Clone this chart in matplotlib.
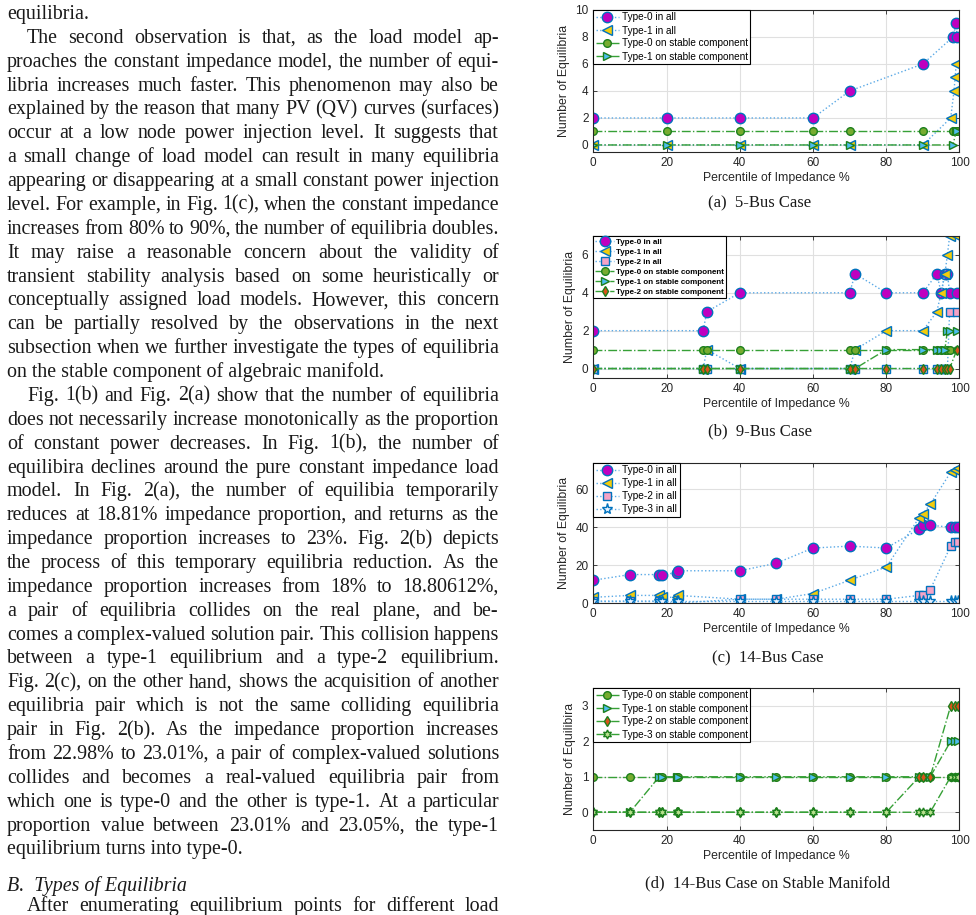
import numpy as np
import matplotlib
matplotlib.use('Agg')
import matplotlib.pyplot as plt

matplotlib.rcParams.update({'font.family': 'Liberation Sans'})

W, H = 976, 915

# ---- data ----
# (a) 5-bus case
x_a0 = [0, 20, 40, 60, 70, 90, 98.2, 99.1, 99.3]
a_t0_all = [2, 2, 2, 2, 4, 6, 8, 9, 8]
x_a1 = [0, 20, 40, 60, 70, 90, 97.6, 98.5, 98.8, 99.1]
a_t1_all = [0, 0, 0, 0, 0, 0, 2, 4, 5, 6]
a_t0_stab = [1, 1, 1, 1, 1, 1, 1, 1, 1]
a_t1_stab = [0, 0, 0, 0, 0, 0, 0, 1, 1]

# (b) 9-bus case
x_b = [0, 30, 31, 40, 70, 71.5, 80, 90, 93.8, 95, 96, 96.7, 97.3, 99.3]
b_t0_all = [2, 2, 3, 4, 4, 5, 4, 4, 5, 4, 5, 5, 4, 4]
b_t1_all = [0, 0, 1, 0, 0, 1, 2, 2, 3, 4, 5, 6, 7, 7]
b_t2_all = [0, 0, 0, 0, 0, 0, 0, 0, 0, 0, 0, 0, 3, 3]
b_t0_stab = [1, 1, 1, 1, 1, 1, 1, 1, 1, 1, 1, 1, 1, 1]
b_t1_stab = [0, 0, 0, 0, 0, 0, 1, 1, 1, 1, 1, 2, 2, 2]
b_t2_stab = [0, 0, 0, 0, 0, 0, 0, 0, 0, 0, 0, 0, 0, 1]

# (c)/(d) 14-bus case
x_c = [0, 10, 18, 18.81, 22.98, 23.01, 40, 50, 60, 70, 80, 89, 90, 92, 97.6, 98.8, 99.7]
c_t0_all = [12, 15, 15, 15, 16, 17, 17, 21, 29, 30, 29, 39, 41, 41, 40, 40, 40]
c_t1_all = [3, 4, 4, 3, 3, 4, 2, 2, 5, 12, 19, 45, 47, 52, 69, 70, 71]
c_t2_all = [1, 1, 1, 0, 0, 0, 2, 2, 2, 2, 2, 4, 4, 7, 30, 32, 32]
c_t3_all = [1, 1, 1, 1, 1, 1, 1, 1, 1, 1, 1, 1, 1, 1, 1, 1, 1]
d_t0_stab = [1, 1, 1, 1, 1, 1, 1, 1, 1, 1, 1, 1, 1, 1, 1, 1, 1]
d_t1_stab = [0, 0, 1, 1, 1, 1, 1, 1, 1, 1, 1, 1, 1, 1, 2, 2, 2]
d_t2_stab = [0, 0, 0, 0, 0, 0, 0, 0, 0, 0, 0, 1, 1, 1, 3, 3, 3]
d_t3_stab = [0, 0, 0, 0, 0, 0, 0, 0, 0, 0, 0, 0, 0, 0, 1, 1, 1]

# left column text: (line, indented, justified)
lines = [
    ("equilibria.", False, False),
    ("The second observation is that, as the load model ap-", True, True),
    ("proaches the constant impedance model, the number of equi-", False, True),
    ("libria increases much faster. This phenomenon may also be", False, True),
    ("explained by the reason that many PV (QV) curves (surfaces)", False, True),
    ("occur at a low node power injection level. It suggests that", False, True),
    ("a small change of load model can result in many equilibria", False, True),
    ("appearing or disappearing at a small constant power injection", False, True),
    ("level. For example, in Fig. 1(c), when the constant impedance", False, True),
    ("increases from 80% to 90%, the number of equilibria doubles.", False, True),
    ("It may raise a reasonable concern about the validity of", False, True),
    ("transient stability analysis based on some heuristically or", False, True),
    ("conceptually assigned load models. However, this concern", False, True),
    ("can be partially resolved by the observations in the next", False, True),
    ("subsection when we further investigate the types of equilibria", False, True),
    ("on the stable component of algebraic manifold.", False, False),
    ("Fig. 1(b) and Fig. 2(a) show that the number of equilibria", True, True),
    ("does not necessarily increase monotonically as the proportion", False, True),
    ("of constant power decreases. In Fig. 1(b), the number of", False, True),
    ("equilibira declines around the pure constant impedance load", False, True),
    ("model. In Fig. 2(a), the number of equilibia temporarily", False, True),
    ("reduces at 18.81% impedance proportion, and returns as the", False, True),
    ("impedance proportion increases to 23%. Fig. 2(b) depicts", False, True),
    ("the process of this temporary equilibria reduction. As the", False, True),
    ("impedance proportion increases from 18% to 18.80612%,", False, True),
    ("a pair of equilibria collides on the real plane, and be-", False, True),
    ("comes a complex-valued solution pair. This collision happens", False, True),
    ("between a type-1 equilibrium and a type-2 equilibrium.", False, True),
    ("Fig. 2(c), on the other hand, shows the acquisition of another", False, True),
    ("equilibria pair which is not the same colliding equilibria", False, True),
    ("pair in Fig. 2(b). As the impedance proportion increases", False, True),
    ("from 22.98% to 23.01%, a pair of complex-valued solutions", False, True),
    ("collides and becomes a real-valued equilibria pair from", False, True),
    ("which one is type-0 and the other is type-1. At a particular", False, True),
    ("proportion value between 23.01% and 23.05%, the type-1", False, True),
    ("equilibrium turns into type-0.", False, False),
]
heading = "B.  Types of Equilibria"
last_line = "After enumerating equilibrium points for different load"

fig = plt.figure(figsize=(W / 100, H / 100), dpi=100)
renderer = fig.canvas.get_renderer()

serif = dict(family='Liberation Serif', fontsize=14.4, color='#1a1a1a')


def text_line(s, y, indent, justify, **kw):
    x0 = 7 + (20 if indent else 0)
    x1 = 499
    if not justify:
        fig.text(x0 / W, 1 - y / H, s, ha='left', va='baseline', **kw)
        return
    words = s.split()
    ts = [fig.text(0, 1 - y / H, w, ha='left', va='baseline', **kw) for w in words]
    widths = [t.get_window_extent(renderer).width for t in ts]
    gap = (x1 - x0 - sum(widths)) / (len(words) - 1)
    x = x0
    for t, w in zip(ts, widths):
        t.set_x(x / W)
        x += w + gap


for i, (s, ind, just) in enumerate(lines):
    text_line(s, 19 + i * 23.87, ind, just, **serif)
text_line(heading, 891.5, False, False, style='italic', **serif)
text_line(last_line, 911, True, True, **serif)

# ---- plots ----
BLUE = '#0072BD'
DOT = '#5aa9e6'
GREEN = '#36a036'
GEDGE = '#1c7f1c'
MAG = '#bf00bf'
YEL = '#f2cc0c'
PINK = '#f4a3c6'
OLIVE = '#77ac30'
CYAN = '#4dbeee'
ORANGE = '#d95319'
HEX = (6, 1, 0)


def all_line(ax, x, y, marker, face, label, ms=7.5):
    ax.plot(x, y, ls=':', color=DOT, lw=1, marker=marker, ms=ms, mfc=face,
            mec=BLUE, mew=1, label=label)


def stable_line(ax, x, y, marker, face, label, ms=5.5):
    ax.plot(x, y, ls='-.', color=GREEN, lw=1, marker=marker, ms=ms, mfc=face,
            mec=GEDGE, mew=1, label=label)


def style_ax(ax, ylim, yticks, ylabel, legsize=7.2, bold=False):
    ax.set_xlim(0, 100)
    ax.set_ylim(*ylim)
    ax.set_xticks([0, 20, 40, 60, 80, 100])
    ax.set_yticks(yticks)
    ax.grid(True, color='#e0e0e0', lw=0.8)
    ax.set_axisbelow(True)
    ax.tick_params(direction='in', top=True, right=True, labelsize=8.5,
                   length=3, width=0.6, colors='#262626')
    for sp in ax.spines.values():
        sp.set_color('#262626')
        sp.set_linewidth(0.8)
    ax.set_xlabel('Percentile of Impedance %', fontsize=8.8, color='#262626', labelpad=2.5)
    ax.set_ylabel(ylabel, fontsize=8.8, color='#262626')
    leg = ax.legend(loc='upper left', borderaxespad=0, handlelength=2.3,
                    handletextpad=0.3, labelspacing=0.3, borderpad=0.25,
                    fancybox=False, edgecolor='#000000', framealpha=1,
                    prop={'size': legsize, 'weight': 'bold' if bold else 'normal'})
    leg.get_frame().set_linewidth(0.8)


left, width = 593.3 / W, 366.2 / W

ax = fig.add_axes([left, 1 - 151.7 / H, width, 141.7 / H])
all_line(ax, x_a0, a_t0_all, 'o', MAG, 'Type-0 in all')
all_line(ax, x_a1, a_t1_all, '<', YEL, 'Type-1 in all')
stable_line(ax, x_a0, a_t0_stab, 'o', OLIVE, 'Type-0 on stable component')
stable_line(ax, x_a0, a_t1_stab, '>', CYAN, 'Type-1 on stable component')
style_ax(ax, (-0.5, 10), [0, 2, 4, 6, 8, 10], 'Number of Equilibria')

ax = fig.add_axes([left, 1 - 378 / H, width, 142 / H])
all_line(ax, x_b, b_t0_all, 'o', MAG, 'Type-0 in all')
all_line(ax, x_b, b_t1_all, '<', YEL, 'Type-1 in all')
all_line(ax, x_b, b_t2_all, 's', PINK, 'Type-2 in all', ms=6)
stable_line(ax, x_b, b_t0_stab, 'o', OLIVE, 'Type-0 on stable component')
stable_line(ax, x_b, b_t1_stab, '>', CYAN, 'Type-1 on stable component')
stable_line(ax, x_b, b_t2_stab, 'd', ORANGE, 'Type-2 on stable component')
style_ax(ax, (-0.5, 7), [0, 2, 4, 6], 'Number of Equilibria', legsize=5.8, bold=True)

ax = fig.add_axes([left, 1 - 603 / H, width, 140.3 / H])
all_line(ax, x_c, c_t0_all, 'o', MAG, 'Type-0 in all')
all_line(ax, x_c, c_t1_all, '<', YEL, 'Type-1 in all')
all_line(ax, x_c, c_t2_all, 's', PINK, 'Type-2 in all', ms=6)
all_line(ax, x_c, c_t3_all, '*', '#e8f2ff', 'Type-3 in all', ms=8)
style_ax(ax, (0, 74), [0, 20, 40, 60], 'Number of Equilibria', legsize=7.3)

ax = fig.add_axes([left, 1 - 830 / H, width, 142 / H])
stable_line(ax, x_c, d_t0_stab, 'o', OLIVE, 'Type-0 on stable component')
stable_line(ax, x_c, d_t1_stab, '>', CYAN, 'Type-1 on stable component')
stable_line(ax, x_c, d_t2_stab, 'd', ORANGE, 'Type-2 on stable component')
stable_line(ax, x_c, d_t3_stab, HEX, '#b8e08e', 'Type-3 on stable component', ms=6.5)
style_ax(ax, (-0.5, 3.5), [0, 1, 2, 3], 'Number of Equilibira')

# sub-captions
caps = [('(a)  5-Bus Case', 760, 203.5),
        ('(b)  9-Bus Case', 760, 431),
        ('(c)  14-Bus Case', 768, 658.5),
        ('(d)  14-Bus Case on Stable Manifold', 768, 883)]
for s, cx, cy in caps:
    fig.text(cx / W, 1 - cy / H, s, ha='center', va='center',
             family='Liberation Serif', fontsize=12, color='#1a1a1a')

fig.savefig('out.png', dpi=100)
